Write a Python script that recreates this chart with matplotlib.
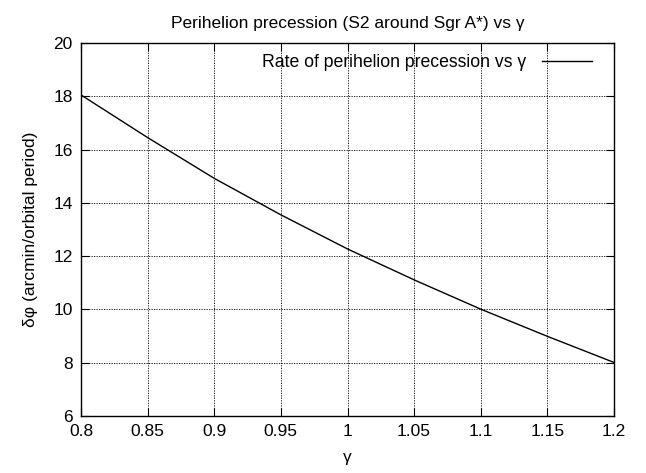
import matplotlib
matplotlib.use("Agg")
import matplotlib.pyplot as plt

gamma = [0.80, 0.85, 0.90, 0.95, 1.00, 1.05, 1.10, 1.15, 1.20]
precession = [18.05, 16.45, 14.92, 13.55, 12.27, 11.11, 10.01, 8.99, 8.01]
xticks = [0.8, 0.85, 0.9, 0.95, 1, 1.05, 1.1, 1.15, 1.2]
xticklabels = ["0.8", "0.85", "0.9", "0.95", "1", "1.05", "1.1", "1.15", "1.2"]
yticks = [6, 8, 10, 12, 14, 16, 18, 20]

plt.rcParams['font.family'] = ['Liberation Sans', 'DejaVu Sans']

fig = plt.figure(figsize=(6.46, 4.73), dpi=100)
ax = fig.add_axes([81/646, 1-416/473, (614-81)/646, (416-43)/473])

ax.plot(gamma, precession, color='black', linewidth=1.0,
        label='Rate of perihelion precession vs γ')

ax.set_xlim(0.8, 1.2)
ax.set_ylim(6, 20)
ax.set_xticks(xticks)
ax.set_xticklabels(xticklabels)
ax.set_yticks(yticks)
ax.tick_params(direction='in', top=True, right=True, length=6, width=0.8,
               labelsize=12.5, pad=6, colors='black')
ax.grid(True, linestyle=(0, (1.5, 1.5)), color='black', linewidth=0.6)
for s in ax.spines.values():
    s.set_linewidth(1.0)

ax.set_title('Perihelion precession (S2 around Sgr A*) vs γ', fontsize=12.5, pad=11)
ax.set_xlabel('γ', fontsize=12.5, labelpad=8)
ax.set_ylabel('δφ (arcmin/orbital period)', fontsize=12.5, labelpad=11)

leg = ax.legend(loc='upper right', frameon=False, fontsize=12.7, markerfirst=False,
                handlelength=2.83, borderaxespad=0.3, handletextpad=0.85,
                bbox_to_anchor=(1 - 10/533, 1 + 1/373))

fig.savefig('out.png', dpi=100)
